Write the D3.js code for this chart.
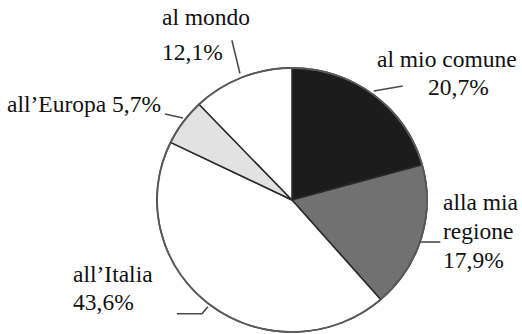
<!DOCTYPE html>
<html>
<head>
<meta charset="utf-8">
<script src="https://cdn.jsdelivr.net/npm/d3@7"></script>
<style>
  html, body { margin: 0; padding: 0; background: #fff; }
  svg { display: block; }
</style>
</head>
<body>
<svg id="chart" width="522" height="334"></svg>
<script>
// Share of respondents by the place they feel they belong to
const categories = ["al mio comune", "alla mia regione", "all’Italia", "all’Europa", "al mondo"];
const values = [20.7, 17.9, 43.6, 5.7, 12.1];
const fills = ["#1c1c1c", "#717171", "#ffffff", "#e2e2e2", "#ffffff"];

// label text lines per slice
const labelLines = [
  ["al mio comune", "20,7%"],
  ["alla mia", "regione", "17,9%"],
  ["all’Italia", "43,6%"],
  ["all’Europa 5,7%"],
  ["al mondo", "12,1%"]
];

const svg = d3.select("#chart");
const cx = 292, cy = 200, rx = 135, ry = 132;

const pie = d3.pie().sort(null).value(d => d)(values);
const arc = d3.arc().innerRadius(0).outerRadius(ry);

const g = svg.append("g")
  .attr("transform", `translate(${cx},${cy}) scale(${rx / ry},1)`);

g.selectAll("path.slice")
  .data(pie)
  .join("path")
  .attr("class", "slice")
  .attr("d", arc)
  .attr("fill", (d, i) => fills[i])
  .attr("stroke", "#2a2a2a")
  .attr("stroke-width", 1.5)
  .attr("stroke-linejoin", "round");

// outer rim
g.append("ellipse")
  .attr("rx", ry).attr("ry", ry)
  .attr("fill", "none")
  .attr("stroke", "#5a5a5a")
  .attr("stroke-width", 1.8);

// point on the rim at a given angle (clockwise from 12 o'clock)
function rim(a) {
  return [cx + Math.sin(a) * rx, cy - Math.cos(a) * ry];
}

// leader line shapes, in offsets from the rim point
const leaders = [
  [[0, -4], [29, -9]],
  [[-2, 4], [19, 4]],
  [[-2, 2], [-8, 9], [-33, 9]],
  [[0, -4], [-18, -8]],
  [[-2, -4], [-10, -37]]
];

pie.forEach((d, i) => {
  const mid = (d.startAngle + d.endAngle) / 2;
  const p = rim(mid);
  const pts = leaders[i].map(o => [p[0] + o[0], p[1] + o[1]]);
  svg.append("path")
    .attr("d", d3.line()(pts))
    .attr("fill", "none")
    .attr("stroke", "#4a4a4a")
    .attr("stroke-width", 1.6);
});

// label layout: [x, first baseline, line step, per-line x offsets]
const labelPos = [
  [377, 67, 28, [0, 51]],
  [443, 210, 29, [0, 0, 0]],
  [73, 282, 28, [0, 0]],
  [7, 112, 0, [0]],
  [162, 25, 35, [0, 0]]
];

labelLines.forEach((lines, i) => {
  const [x, y, step, dx] = labelPos[i];
  lines.forEach((t, j) => {
    svg.append("text")
      .attr("x", x + dx[j])
      .attr("y", y + j * step)
      .style("font-family", "Liberation Serif")
      .style("font-size", "23.5px")
      .style("fill", "#111")
      .text(t);
  });
});
</script>
</body>
</html>
